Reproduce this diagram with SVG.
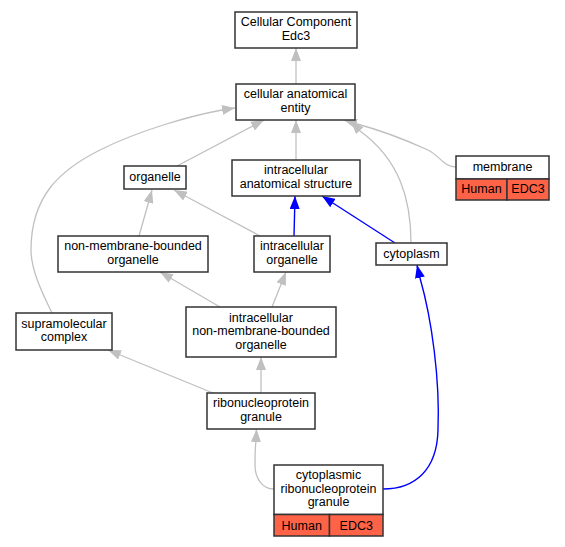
<svg xmlns="http://www.w3.org/2000/svg" width="565" height="547" viewBox="0 0 565 547">
<style>
.box{fill:#ffffff;stroke:#333333;stroke-width:1.5}
.hit{fill:#ff6347;stroke:#333333;stroke-width:1.5}
text{font-family:"Liberation Sans",Arial,sans-serif;font-size:12.5px;fill:#000000;text-anchor:middle}
.g{fill:none;stroke:#c0c0c0;stroke-width:1.3;marker-end:url(#ag)}
.b{fill:none;stroke:#0000ff;stroke-width:1.4;marker-end:url(#ab)}
</style>
<defs>
<marker id="ag" markerUnits="userSpaceOnUse" markerWidth="13" markerHeight="10" refX="13" refY="5" orient="auto"><path d="M0,0 L13,5 L0,10 z" fill="#c0c0c0"/></marker>
<marker id="ab" markerUnits="userSpaceOnUse" markerWidth="13" markerHeight="10" refX="13" refY="5" orient="auto"><path d="M0,0 L13,5 L0,10 z" fill="#0000ff"/></marker>
</defs>
<rect width="565" height="547" fill="#ffffff"/>
<g id="edges">
<path class="g" d="M296,84 L296,48"/>
<path class="g" d="M177,166 L264,120"/>
<path class="g" d="M296,160 L296,120"/>
<path class="g" d="M456,167 C444,167 440,156 428,150 C408,141 380,130 357,124 L344,120"/>
<path class="g" d="M411,243 C411,200 400,160 360,131 L351,121"/>
<path class="g" d="M52,313 C45,298 31,272 31,250 C31,196 60,170 100,150 C140,130 190,116 222,110 L235,108"/>
<path class="g" d="M139,236 L152,190"/>
<path class="g" d="M260,236 L174,190"/>
<path class="b" d="M294,236 L295,196"/>
<path class="b" d="M395,243 L322,196"/>
<path class="g" d="M220,307 L160,272"/>
<path class="g" d="M272,307 L286,272"/>
<path class="g" d="M213,393 L108,350"/>
<path class="g" d="M261,393 L261,357"/>
<path class="g" d="M274,489 C262,489 255,478 255,465 C255,455 255,448 256,441 L256.5,429"/>
<path class="b" d="M383,489 C415,489 437,470 438,430 C440,380 432,320 420,278 L417,265"/>
</g>
<g id="n_cc"><rect class="box" x="235" y="12" width="122" height="36"/><text x="296" y="26.3">Cellular Component</text><text x="296" y="39.8">Edc3</text></g>
<g id="n_cae"><rect class="box" x="236" y="84" width="119" height="36"/><text x="295.5" y="98.3">cellular anatomical</text><text x="295.5" y="111.8">entity</text></g>
<g id="n_organelle"><rect class="box" x="124" y="166" width="62" height="23"/><text x="155" y="181">organelle</text></g>
<g id="n_ias"><rect class="box" x="232" y="160" width="128" height="36"/><text x="296" y="174.3">intracellular</text><text x="296" y="187.8">anatomical structure</text></g>
<g id="n_membrane"><rect class="box" x="456" y="156" width="93" height="23"/><rect class="hit" x="456" y="179" width="51" height="21"/><rect class="hit" x="507" y="179" width="42" height="21"/><text x="502.5" y="170.5">membrane</text><text x="481.5" y="192.5">Human</text><text x="528" y="192.5">EDC3</text></g>
<g id="n_nmbo"><rect class="box" x="58" y="236" width="150" height="36"/><text x="133" y="250.3">non-membrane-bounded</text><text x="133" y="263.8">organelle</text></g>
<g id="n_io"><rect class="box" x="254" y="236" width="76" height="36"/><text x="292" y="250.3">intracellular</text><text x="292" y="263.8">organelle</text></g>
<g id="n_cytoplasm"><rect class="box" x="376" y="243" width="71" height="22"/><text x="411.5" y="258">cytoplasm</text></g>
<g id="n_sc"><rect class="box" x="16" y="313" width="96" height="37"/><text x="64" y="327.8">supramolecular</text><text x="64" y="341.3">complex</text></g>
<g id="n_inmbo"><rect class="box" x="186" y="307" width="150" height="50"/><text x="261" y="321.5">intracellular</text><text x="261" y="335">non-membrane-bounded</text><text x="261" y="348.5">organelle</text></g>
<g id="n_rng"><rect class="box" x="207" y="393" width="108" height="36"/><text x="261" y="407.3">ribonucleoprotein</text><text x="261" y="420.8">granule</text></g>
<g id="n_crng"><rect class="box" x="274" y="465" width="109" height="49.5"/><rect class="hit" x="274" y="514.5" width="55.5" height="21.5"/><rect class="hit" x="329.5" y="514.5" width="53.5" height="21.5"/><text x="328.5" y="479">cytoplasmic</text><text x="328.5" y="492.5">ribonucleoprotein</text><text x="328.5" y="506">granule</text><text x="301.75" y="529.5">Human</text><text x="356.25" y="529.5">EDC3</text></g>
</svg>
